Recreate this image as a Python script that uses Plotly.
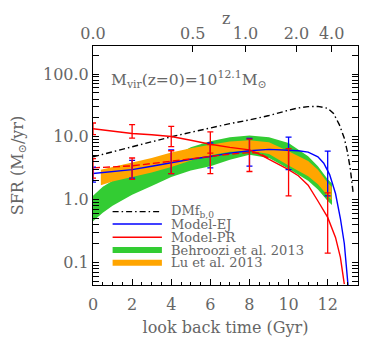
import plotly.graph_objects as go

# look back time (Gyr) and SFR (Msun/yr)
t_dm = [0, 1, 2, 3, 4, 5, 6, 7, 8, 9, 10, 10.5, 11, 11.5, 12, 12.3, 12.6, 12.85, 13.0, 13.15, 13.3]
sfr_dm = [4.8, 5.8, 7.0, 8.4, 10.0, 11.8, 13.9, 16.2, 18.6, 21.8, 26.5, 28.8, 30.2, 30.5, 28.5, 23.5, 15.5, 9.5, 5.9, 3.2, 1.3]

t_ej = [0, 1, 2, 3, 4, 5, 6, 7, 8, 9, 10, 10.5, 11, 11.5, 11.8, 12.1, 12.4, 12.65, 12.85, 12.97, 13.05]
sfr_ej = [2.6, 2.8, 3.0, 3.4, 3.9, 4.4, 4.85, 5.5, 6.0, 6.3, 6.1, 6.0, 5.7, 4.8, 3.8, 2.5, 1.25, 0.5, 0.2, 0.08, 0.04]

t_pr = [0, 1, 2, 3, 4, 5, 6, 7, 8, 8.5, 9, 9.5, 10, 10.5, 11, 11.5, 12, 12.4, 12.65, 12.85]
sfr_pr = [13.4, 12.3, 11.3, 10.8, 10.1, 8.8, 7.6, 6.8, 6.2, 5.3, 4.4, 3.6, 3.0, 2.4, 1.7, 0.95, 0.52, 0.25, 0.12, 0.045]

t_pr_dash = [0, 1, 2, 3, 4, 5, 6, 7, 8, 8.5, 9.0]
sfr_pr_dash = [3.2, 3.3, 3.45, 3.75, 4.1, 4.5, 4.9, 5.3, 5.6, 5.5, 4.5]

# error bars
t_err_red = [0, 2, 4, 6, 0, 2, 4, 6, 8, 10, 12]
c_err_red = [13.4, 11.3, 10.1, 7.6, 3.2, 3.45, 4.1, 4.9, 5.6, 3.0, 0.52]
lo_err_red = [10.8, 9.5, 7.0, 5.5, 2.2, 2.1, 2.6, 2.6, 2.8, 1.15, 0.14]
hi_err_red = [16.6, 15.6, 14.7, 12.0, 4.5, 4.6, 6.0, 7.5, 9.2, 6.5, 1.28]

t_err_blue = [0, 2, 4, 6, 8, 10, 12]
c_err_blue = [2.6, 3.0, 3.9, 4.85, 6.0, 6.1, 2.9]
lo_err_blue = [1.9, 2.2, 2.6, 3.2, 3.4, 3.0, 1.15]
hi_err_blue = [3.3, 4.2, 6.2, 8.0, 9.4, 9.9, 5.9]

# Behroozi et al. 2013 band
t_beh = [0, 0.5, 1, 2, 3, 4, 5, 6, 7, 8, 9, 10, 11, 11.5, 12, 12.22]
beh_lo = [0.45, 0.62, 0.8, 1.2, 1.65, 2.3, 2.9, 3.4, 4.3, 5.2, 4.6, 3.1, 2.0, 1.45, 0.95, 0.82]
beh_hi = [1.15, 1.6, 2.0, 2.7, 3.5, 4.7, 6.8, 8.5, 9.8, 10.5, 9.8, 8.0, 4.9, 3.4, 2.1, 1.8]

# Lu et al. 2013 band
t_lu = [0.4, 1, 2, 3, 4, 5, 6, 7, 8, 9, 10, 11, 11.5, 12, 12.2]
lu_lo = [1.7, 1.95, 2.3, 2.7, 3.3, 4.2, 5.1, 5.8, 6.0, 5.3, 3.5, 2.35, 1.75, 1.15, 0.98]
lu_hi = [3.0, 3.3, 3.9, 4.6, 5.6, 6.6, 7.5, 8.4, 8.8, 8.2, 5.9, 4.1, 3.0, 1.85, 1.6]

# top axis: redshift vs look back time
z_labels = ["0.0", "0.5", "1.0", "2.0", "4.0"]
z_lookback = [0, 5.1, 7.8, 10.4, 12.2]

y_tickvals = [0.1, 1, 10, 100]
y_ticktext = ["0.1", "1.0", "10.0", "100.0"]

legend_labels = ["DMf<sub>b,0</sub>", "Model-EJ", "Model-PR", "Behroozi et al. 2013", "Lu et al. 2013"]

FONT = "DejaVu Serif"
GREY = "#666666"
GREEN = "#33cc33"
ORANGE = "#ffa500"
RED = "#ff0000"
BLUE = "#0000ff"

fig = go.Figure()

fig.add_trace(go.Scatter(x=t_beh, y=beh_lo, mode="lines", line=dict(width=0), showlegend=False))
fig.add_trace(go.Scatter(x=t_beh, y=beh_hi, mode="lines", line=dict(width=0), fill="tonexty",
                         fillcolor=GREEN, showlegend=False))
fig.add_trace(go.Scatter(x=t_lu, y=lu_lo, mode="lines", line=dict(width=0), showlegend=False))
fig.add_trace(go.Scatter(x=t_lu, y=lu_hi, mode="lines", line=dict(width=0), fill="tonexty",
                         fillcolor=ORANGE, showlegend=False))

fig.add_trace(go.Scatter(x=t_dm, y=sfr_dm, mode="lines", showlegend=False,
                         line=dict(color="black", width=1.4, dash="6px,3px,1.5px,3px")))
fig.add_trace(go.Scatter(x=t_ej, y=sfr_ej, mode="lines", showlegend=False,
                         line=dict(color=BLUE, width=1.4)))
fig.add_trace(go.Scatter(x=t_pr, y=sfr_pr, mode="lines", showlegend=False,
                         line=dict(color=RED, width=1.4)))
fig.add_trace(go.Scatter(x=t_pr_dash, y=sfr_pr_dash, mode="lines", showlegend=False,
                         line=dict(color=RED, width=1.4, dash="7px,3px")))

fig.add_trace(go.Scatter(
    x=t_err_blue, y=c_err_blue, mode="markers", marker=dict(size=0.1, color=BLUE), showlegend=False,
    error_y=dict(type="data", symmetric=False,
                 array=[h - c for h, c in zip(hi_err_blue, c_err_blue)],
                 arrayminus=[c - l for c, l in zip(c_err_blue, lo_err_blue)],
                 color=BLUE, thickness=1.3, width=3)))
fig.add_trace(go.Scatter(
    x=t_err_red, y=c_err_red, mode="markers", marker=dict(size=0.1, color=RED), showlegend=False,
    error_y=dict(type="data", symmetric=False,
                 array=[h - c for h, c in zip(hi_err_red, c_err_red)],
                 arrayminus=[c - l for c, l in zip(c_err_red, lo_err_red)],
                 color=RED, thickness=1.3, width=3)))

# invisible trace so the top redshift axis gets drawn
fig.add_trace(go.Scatter(x=z_lookback, y=[None] * len(z_lookback), xaxis="x2",
                         mode="markers", showlegend=False, hoverinfo="skip"))

# hand-made legend (plotly's legend rows are too tall for this layout)
legend_styles = [
    dict(color="black", width=1.4, dash="6px,3px,1.5px,3px"),
    dict(color=BLUE, width=1.4),
    dict(color=RED, width=1.4),
    dict(color=GREEN, width=6),
    dict(color=ORANGE, width=6),
]
row_y = [0.307, 0.255, 0.2, 0.146, 0.093]
for label, style, yy in zip(legend_labels, legend_styles, row_y):
    fig.add_shape(type="line", xref="paper", yref="paper", x0=0.074, x1=0.26, y0=yy, y1=yy, line=style)
    fig.add_annotation(text=label, xref="paper", yref="paper", x=0.285, y=yy, xanchor="left",
                       yanchor="middle", showarrow=False, font=dict(family=FONT, size=13, color=GREY))

fig.add_annotation(text="M<sub>vir</sub>(z=0)=10<sup>12.1</sup>M<sub>⊙</sub>", xref="paper", yref="paper",
                   x=0.062, y=0.86, xanchor="left", yanchor="middle", showarrow=False,
                   font=dict(family=FONT, size=15.5, color=GREY))

# redshift axis title
fig.add_annotation(text="z", xref="paper", yref="paper", x=0.5, y=1.113, xanchor="center",
                   yanchor="middle", showarrow=False, font=dict(family=FONT, size=16, color=GREY))

axis_common = dict(showline=True, linecolor="black", linewidth=1, showgrid=False, zeroline=False,
                   ticks="inside", tickcolor="black", ticklen=6, automargin=False,
                   tickfont=dict(family=FONT, size=16, color=GREY))

fig.update_layout(
    width=374,
    height=343,
    margin=dict(l=85, r=24, t=38, b=66),
    plot_bgcolor="white",
    paper_bgcolor="white",
    showlegend=False,
    xaxis=dict(range=[0, 13.55], tickvals=[0, 2, 4, 6, 8, 10, 12], ticklabelstandoff=5,
               minor=dict(dtick=0.5, ticks="inside", ticklen=3, tickcolor="black"),
               title=dict(text="look back time (Gyr)", font=dict(family=FONT, size=16, color=GREY), standoff=8),
               **axis_common),
    xaxis2=dict(overlaying="x", side="top", range=[0, 13.55], tickvals=z_lookback, ticktext=z_labels,
                ticklabelstandoff=0, **axis_common),
    yaxis=dict(type="log", range=[-1.36, 2.446], tickvals=y_tickvals, ticktext=y_ticktext, mirror="allticks",
               minor=dict(tickvals=[m * d for d in [0.01, 0.1, 1, 10, 100] for m in range(2, 10)],
                          ticks="inside", ticklen=3, tickcolor="black"),
               title=dict(text="SFR (M<sub>⊙</sub>/yr)", font=dict(family=FONT, size=16, color=GREY), standoff=16),
               **axis_common),
)

fig.write_html("out.html")
